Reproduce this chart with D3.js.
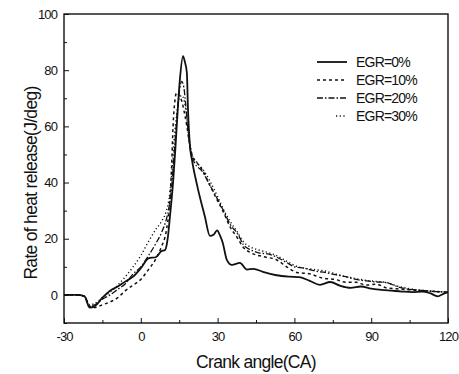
<!DOCTYPE html>
<html><head><meta charset="utf-8">
<script src="https://cdn.jsdelivr.net/npm/d3@7"></script>
<style>body{margin:0;background:#fff}svg{display:block}text{font-family:"Liberation Sans",Arial,sans-serif;fill:#111}</style>
</head><body>
<script>
const xTicks = [-30, 0, 30, 60, 90, 120];
const yTicks = [0, 20, 40, 60, 80, 100];
const seriesNames = ["EGR=0%", "EGR=10%", "EGR=20%", "EGR=30%"];

const angle0 = [-30,-25,-22,-20,-18,-15,-12,-9,-6,-3,0,3,6,8,9.5,10.5,11.4,12.6,13.5,14.5,15.3,16.5,17.2,18,18.4,19.2,20,22,25,27,28.5,29.8,31,32,33.6,35.6,38.7,41.5,44,47.7,53,58,62,66,70,74,78,82,86,90,94,98,102,106,110,113,116,118,120];
const rate0  = [0,0,-0.5,-4.5,-4,-1,1.5,3,4.8,6.5,9.5,13,13.5,15.5,16,20,28,40,52,67,77,85,83,79,67,53,48,39,28,21,21.5,23,21,18.6,12.5,10.7,11.4,9,9.3,8.2,7,6.5,6.3,5,3.6,4.6,3.2,2.5,3,2.2,1.8,1.5,1.2,1,1.2,0.6,-0.5,0.3,1];

const angle10 = [-30,-25,-22,-20,-18,-15,-12,-9,-6,-3,0,3,6,8,10,11,12,12.6,13.3,14,15,16,17,18,19,20,22,24,27,30,32,35,37.6,40,43,48,53,57,61,66,71,76,80,84,88,92,96,100,105,110,115,120];
const rate10  = [0,0,-0.5,-4,-4.5,-3.5,-2.5,-1,1.5,3.5,5.5,9,13,17,23,30,45,60,69,72,71,69,65,60,54,50,47,44.5,39,33.5,30,24,20.5,17,15,13.6,12.5,10,8,7.5,6,5.5,4.5,4.5,3.5,3.8,2.5,2.2,1.8,1.5,1.2,1];

const angle20 = [-30,-25,-22,-20,-18,-15,-12,-9,-6,-3,0,3,6,8,10,11,12,13,14,15,16,16.8,17.5,18.5,19.5,21,24,27,30,32,35,38,40,43,46,50,53,57,60,64,68,72,76,80,84,88,92,96,100,105,110,115,120];
const rate20  = [0,0,-0.5,-4,-3.5,-1.5,0,2,4,7.5,10,14,18.5,22,27,31,38,50,62,72,76,74,68,58,51,47,44,39,34,30.5,25,21.5,18,16,15,14.5,13.5,11.5,10,9.5,8.5,8,7.2,6.5,5.5,5,4.6,4.4,3,2,1.6,1.2,1];

const angle30 = [-30,-25,-22,-20,-18,-15,-12,-9,-6,-3,0,3,6,8,10,11,12,13,14,15,16,17,18,19,20,22,24,27,30,32,35,38,40,43,46,50,53,57,60,64,68,72,76,80,84,88,92,96,100,105,110,115,120];
const rate30  = [0,0,-0.5,-3.5,-3,-1,1,3.5,6.5,10,14,19,23.5,26,30,34,42,55,64,70,71,69,63,55,50,47,45,40.5,35,31,26,22,19,17,16,15,14,12,10.5,9.5,9,8.5,7.5,6.5,5.8,5.2,4.8,4.4,3.2,2.2,1.6,1.3,1];

const W = 459, H = 374;
const m = {left: 64, top: 14, right: 11, bottom: 51};
const iw = W - m.left - m.right, ih = H - m.top - m.bottom;

const svg = d3.select("body").append("svg").attr("width", W).attr("height", H);
const g = svg.append("g").attr("transform", `translate(${m.left},${m.top})`);

const x = d3.scaleLinear().domain([-30, 120]).range([0, iw]);
const y = d3.scaleLinear().domain([-10, 100]).range([ih, 0]);

const series = [
  {name: seriesNames[0], xs: angle0, ys: rate0, dash: null, w: 1.8},
  {name: seriesNames[1], xs: angle10, ys: rate10, dash: "3,3", w: 1.5},
  {name: seriesNames[2], xs: angle20, ys: rate20, dash: "6,2,1.5,2", w: 1.3},
  {name: seriesNames[3], xs: angle30, ys: rate30, dash: "1.2,2.5", w: 1.4}
];

const line = d3.line().x(d => x(d[0])).y(d => y(d[1])).curve(d3.curveMonotoneX);
series.forEach(s => {
  g.append("path").datum(s.xs.map((a, i) => [a, s.ys[i]]))
    .attr("fill", "none").attr("stroke", "#111").attr("stroke-width", s.w)
    .attr("stroke-dasharray", s.dash).attr("d", line);
});

// axes (ticks inside)
const xAxis = d3.axisBottom(x).tickValues(d3.range(-30, 121, 15)).tickSize(-5).tickPadding(9)
  .tickFormat(d => xTicks.includes(d) ? d : "");
const gx = g.append("g").attr("transform", `translate(0,${ih})`).call(xAxis);
const yAxis = d3.axisLeft(y).tickValues(d3.range(-10, 101, 10)).tickSize(-5).tickPadding(7)
  .tickFormat(d => yTicks.includes(d) ? d : "");
const gy = g.append("g").call(yAxis);
[gx, gy].forEach(a => {
  a.select(".domain").remove();
  a.selectAll(".tick line").attr("stroke", "#111").attr("stroke-width", 1);
  a.selectAll(".tick text").style("font-size", "13px").style("letter-spacing", "-0.9px").attr("fill", "#111");
});
gx.selectAll(".tick").filter(d => d % 30 !== 0).select("line").attr("y2", -3);
gy.selectAll(".tick").filter(d => d % 20 !== 0).select("line").attr("x2", 3);

g.append("rect").attr("width", iw).attr("height", ih).attr("fill", "none")
  .attr("stroke", "#111").attr("stroke-width", 1.4);

// legend
const leg = g.append("g");
series.forEach((s, i) => {
  const yy = 48 + i * 18;
  const x1 = i === 3 ? 272 : 253, x2 = 283;
  leg.append("line").attr("x1", x1).attr("x2", x2).attr("y1", yy).attr("y2", yy)
    .attr("stroke", "#111").attr("stroke-width", s.w).attr("stroke-dasharray", s.dash);
  leg.append("text").attr("x", 292).attr("y", yy + 5).text(s.name)
    .style("font-size", "14px").style("letter-spacing", "-0.8px");
});

// axis titles
svg.append("text").attr("x", 256).attr("y", 368).attr("text-anchor", "middle")
  .style("font-size", "17.5px").style("letter-spacing", "-0.7px").text("Crank angle(CA)");
svg.append("text").attr("transform", "translate(37,183) rotate(-90)").attr("text-anchor", "middle")
  .style("font-size", "17.5px").style("letter-spacing", "-0.7px").text("Rate of heat release(J/deg)");
</script>
</body></html>
